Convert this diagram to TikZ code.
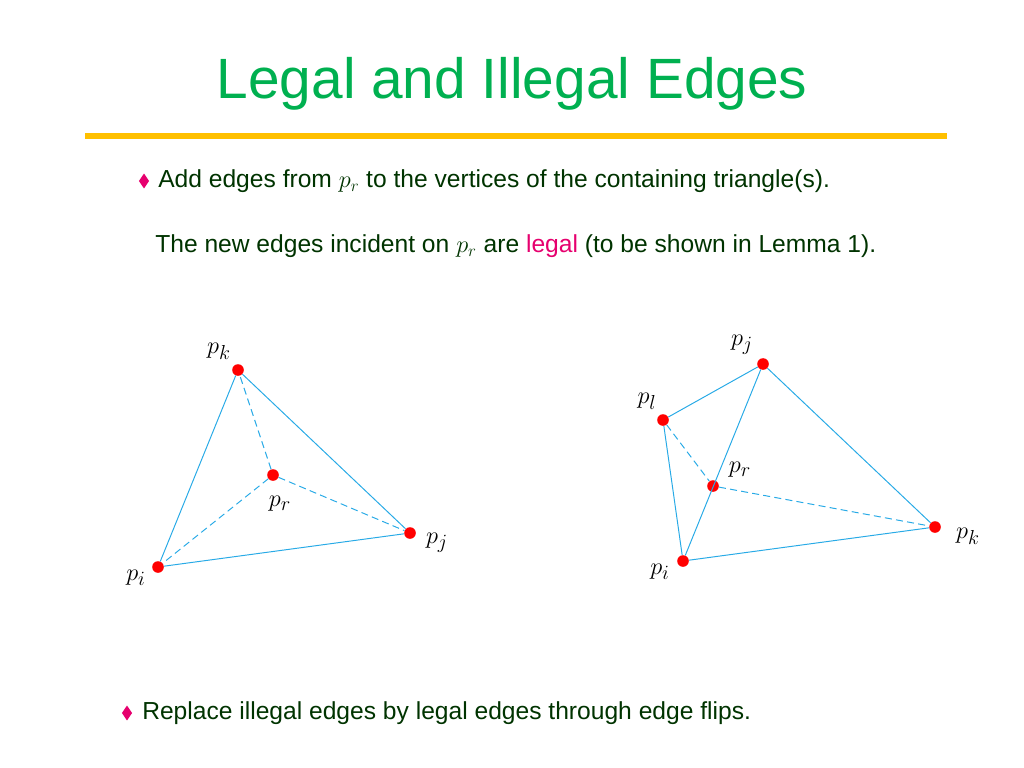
\documentclass[tikz,border=0pt]{standalone}
\usepackage{fontspec}
\setmainfont{Liberation Sans}
\usetikzlibrary{shapes.geometric}
\definecolor{ttl}{RGB}{0,176,80}
\definecolor{txt}{RGB}{0,51,0}
\definecolor{gold}{RGB}{255,192,0}
\definecolor{mag}{RGB}{230,0,110}
\definecolor{edge}{RGB}{40,170,230}
\tikzset{
 pt/.style={circle,fill=red,inner sep=0pt,minimum size=0.29cm},
 lab/.style={font=\fontsize{19}{22}\selectfont},
 e/.style={edge,line width=0.7pt},
 de/.style={edge,line width=0.7pt,dash pattern=on 5pt off 3pt},
 body/.style={font=\fontsize{17.5}{20}\selectfont,text=txt,anchor=west,inner sep=0pt},
 bul/.style={diamond,fill=mag,inner sep=0pt,minimum width=0.26cm,minimum height=0.38cm}
}
\begin{document}
\begin{tikzpicture}[x=0.025cm,y=-0.025cm]
\useasboundingbox (0,0) rectangle (1024,768);
\node[font=\fontsize{40.4}{46}\selectfont,text=ttl] (title) at (512,84) {Legal and Illegal Edges};
\draw[gold,line width=4pt] (85,136) -- (947,136);
\node[bul] (b1) at (144,181) {};
\node[body] (t1) at (158,181) {Add edges from $p_r$ to the vertices of the containing triangle(s).};
\node[body] (t2) at (155,246) {The new edges incident on $p_r$ are \textcolor{mag}{legal} (to be shown in Lemma 1).};
\node[bul] (b2) at (127,713) {};
\node[body] (t3) at (142,713) {Replace illegal edges by legal edges through edge flips.};
% left
\node[pt] (lk) at (238,370) {};
\node[pt] (lr) at (273,475) {};
\node[pt] (lj) at (410,533) {};
\node[pt] (li) at (158,567) {};
\draw[e] (lk)--(lj)--(li)--(lk);
\draw[de] (lr)--(lk) (lr)--(lj) (lr)--(li);
\node[lab] at (219,351) {$p_k$};
\node[lab] at (280,504) {$p_r$};
\node[lab] at (437,543) {$p_j$};
\node[lab] at (136,578) {$p_i$};
% right
\node[pt] (rj) at (763,364) {};
\node[pt] (rl) at (663,420) {};
\node[pt] (rr) at (713,486) {};
\node[pt] (rk) at (935,527) {};
\node[pt] (ri) at (683,561) {};
\draw[e] (rl)--(rj)--(rk)--(ri)--(rl) (rj)--(ri);
\draw[de] (rl)--(rr)--(rk);
\node[lab] at (742,345) {$p_j$};
\node[lab] at (647,401) {$p_l$};
\node[lab] at (740,470) {$p_r$};
\node[lab] at (968,536) {$p_k$};
\node[lab] at (660,572) {$p_i$};
\end{tikzpicture}
\end{document}
